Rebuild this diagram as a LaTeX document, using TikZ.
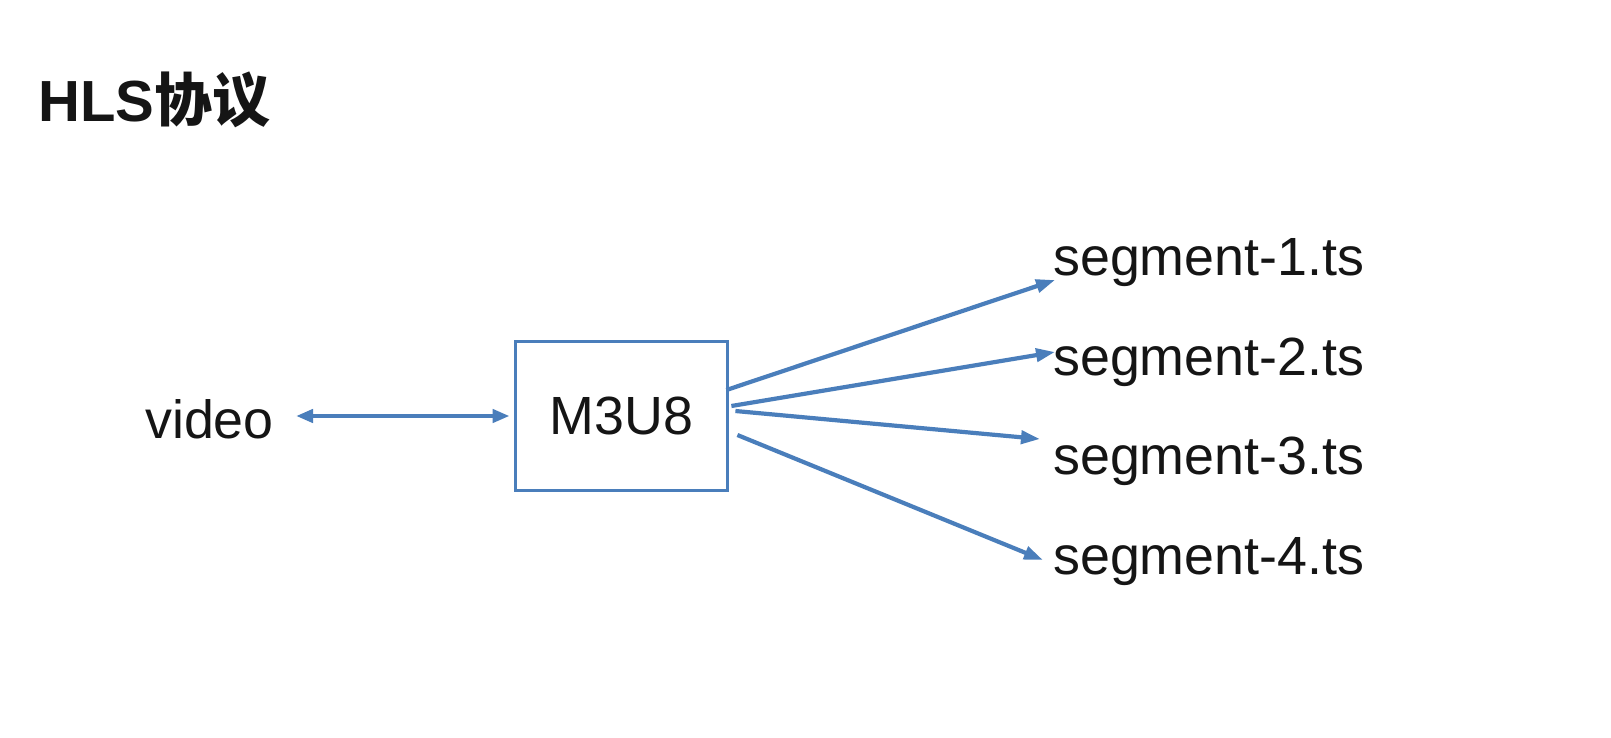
\documentclass[tikz,border=0pt]{standalone}
\usepackage{fontspec}
\setmainfont{Liberation Sans}
\newfontfamily\cjk{Noto Sans CJK SC}
\usetikzlibrary{arrows.meta,calc}
\definecolor{lineblue}{HTML}{4A7EBB}
\definecolor{txt}{HTML}{151515}
\tikzset{
  lbl/.style={inner sep=0pt, text=txt, font=\fontsize{53.8}{60}\selectfont},
  tip/.style={Triangle[length=19pt,width=13pt]},
  conn/.style={draw=lineblue, line width=4.2pt, -{Triangle[length=19pt,width=13pt]}},
  dconn/.style={draw=lineblue, line width=4.2pt, {Triangle[length=17pt,width=13pt]}-{Triangle[length=17pt,width=13pt]}},
  boxstyle/.style={draw=lineblue, line width=3.8pt, minimum width=212pt, minimum height=149pt, inner sep=0pt, text=txt, font=\fontsize{53.8}{60}\selectfont}
}
\begin{document}
\begin{tikzpicture}[x=1pt,y=-1pt]
\useasboundingbox[fill=white] (0,0) rectangle (1611,737);
\node[anchor=base west, inner sep=0pt, text=txt, font=\fontsize{58}{66}\selectfont\bfseries] (title) at (38,121) {HLS{\cjk\bfseries 协议}};
\node[lbl, anchor=base west] (video) at (145,438) {video};
\node[boxstyle] (m3u8) at (621.5,416) {M3U8};
\node[lbl, anchor=base west] (s1) at (1053,275) {segment-1.ts};
\node[lbl, anchor=base west] (s2) at (1053,375) {segment-2.ts};
\node[lbl, anchor=base west] (s3) at (1053,474) {segment-3.ts};
\node[lbl, anchor=base west] (s4) at (1053,574) {segment-4.ts};
\draw[dconn] ($(video.east |- m3u8.west)+(22,0)$) -- ($(m3u8.west)+(-4,0)$);
\draw[conn] ($(m3u8.east)+(-3,-26)$) -- ($(s1.base west)+(2,5)$);
\draw[conn] ($(m3u8.east)+(2,-10)$) -- ($(s2.base west)+(2,-23)$);
\draw[conn] ($(m3u8.east)+(6,-5)$) -- ($(s3.base west)+(-13,-35)$);
\draw[conn] ($(m3u8.east)+(8,19)$) -- ($(s4.base west)+(-10,-14)$);
\end{tikzpicture}
\end{document}
